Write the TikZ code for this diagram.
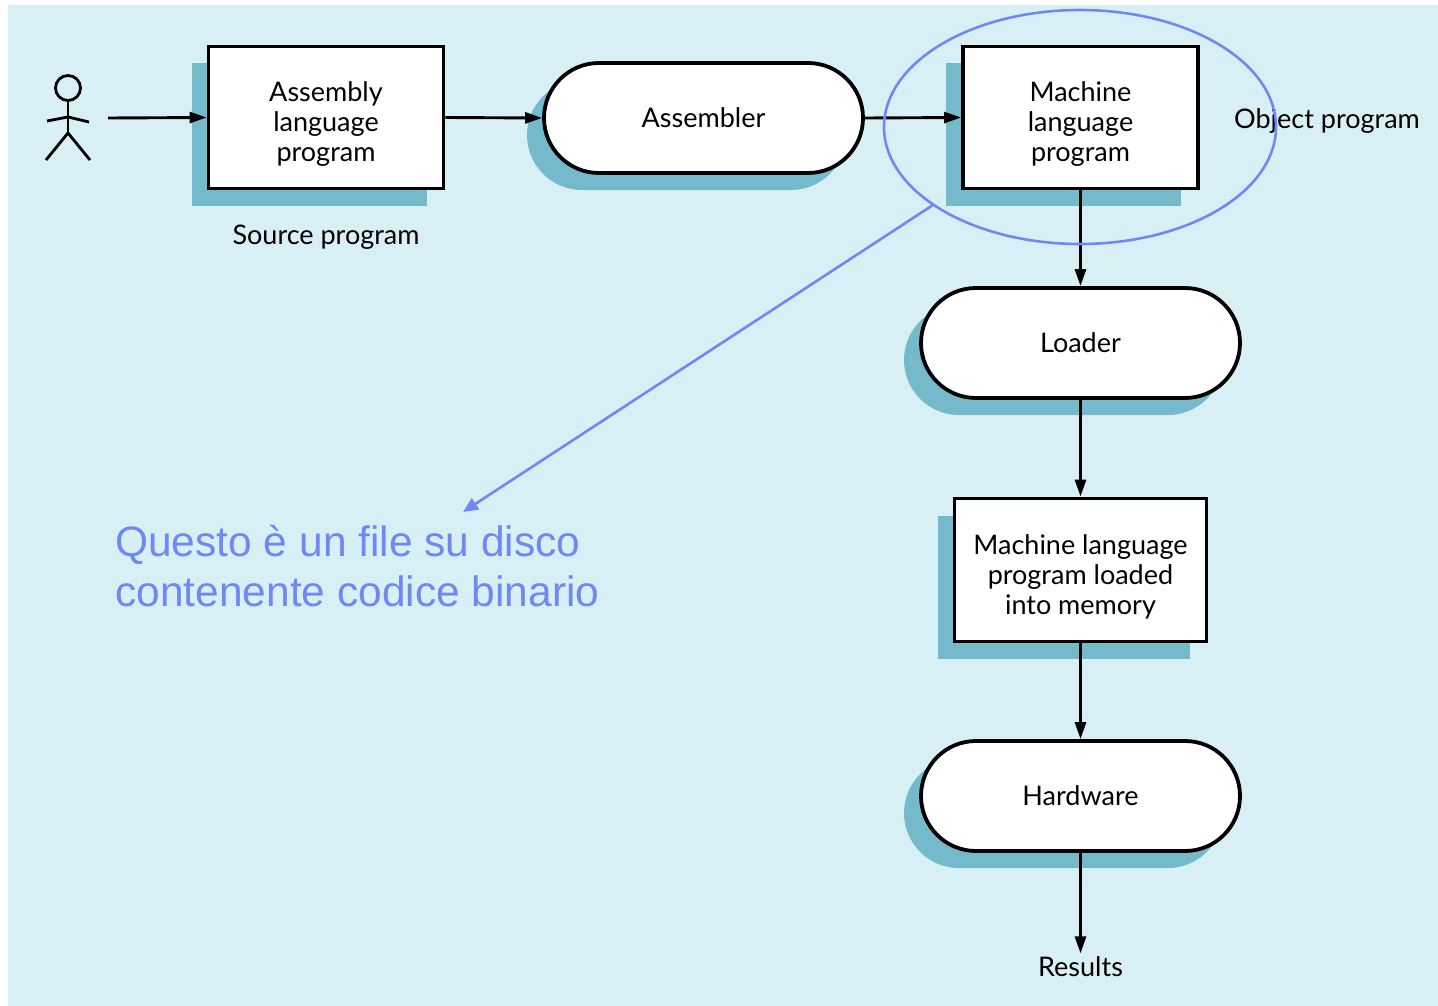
\documentclass[tikz,border=0pt]{standalone}
\usepackage{fontspec}
\setmainfont{Lato}
\newfontfamily\notefont{Liberation Sans}
\usetikzlibrary{arrows.meta,shadows}
\definecolor{bgc}{RGB}{217,239,246}
\definecolor{shc}{RGB}{116,186,203}
\definecolor{notec}{RGB}{112,136,245}
\newcommand{\boxtext}[1]{\raisebox{-8pt}[\height][\depth]{\begin{tabular}{@{}c@{}}#1\end{tabular}}}
\tikzset{
  base/.style={draw=black, line width=3.8pt, fill=white, align=center,
    font=\fontsize{27}{30}\selectfont,
    general shadow={fill=shc, shadow xshift=-17pt, shadow yshift=-17pt}},
  rectbox/.style={base, rectangle},
  stadium/.style={base, rectangle, rounded corners=55pt,
    minimum width=319pt, minimum height=110pt},
  arr/.style={line width=2.9pt, -{Triangle[length=17pt,width=11pt]}},
  lbl/.style={font=\fontsize{27}{30}\selectfont},
  note/.style={notec, line width=2.6pt},
}
\begin{document}
\begin{tikzpicture}[x=1pt,y=-1pt]
\useasboundingbox (0,0) rectangle (1438,1006);
\fill[bgc] (8,5) rectangle (1438,1006);

% stick figure
\draw[line width=2.8pt] (68,88) circle (12.5);
\draw[line width=2.8pt] (68,100.5) -- (68,133);
\draw[line width=2.8pt] (47,121) -- (68,117) -- (89,122);
\draw[line width=2.8pt] (46,160) -- (68,133) -- (90,160);
\coordinate (fig) at (108,118);

% nodes
\node[rectbox, minimum width=235pt, minimum height=142pt] (src) at (326,117.5)
  {\boxtext{Assembly\\language\\program}};
\node[stadium] (asm) at (703.5,118) {Assembler};
\node[rectbox, minimum width=235pt, minimum height=142pt] (obj) at (1080.5,117.5)
  {\boxtext{Machine\\language\\program}};
\node[stadium] (load) at (1080.5,343) {Loader};
\node[rectbox, minimum width=252pt, minimum height=143pt] (mem) at (1080.5,570)
  {\boxtext{Machine language\\program loaded\\into memory}};
\node[stadium] (hw) at (1080.5,796) {Hardware};

\node[lbl] (srclbl) at (326,237) {Source program};
\node[lbl] (objlbl) at (1327,121) {Object program};
\node[lbl] (res) at (1080.5,967) {Results};

% connectors
\draw[arr] (fig) -- (src.west);
\draw[arr] (src.east) -- (asm.west);
\draw[arr] (asm.east) -- (obj.west);
\draw[arr] (obj.south) -- (load.north);
\draw[arr] (load.south) -- (mem.north);
\draw[arr] (mem.south) -- (hw.north);
\draw[arr] (hw.south) -- (res.north);

% annotation
\draw[note] (1080,127) ellipse [x radius=196, y radius=117];
\coordinate (bstart) at (933,205);
\coordinate (btip) at (463,512);
\draw[note, -{Triangle[length=15pt,width=13pt]}] (bstart) -- (btip);
\node[notec, anchor=base west, inner sep=0pt, font=\notefont\fontsize{42.5}{50}\selectfont]
  (q1) at (115,556) {Questo è un file su disco};
\node[notec, anchor=base west, inner sep=0pt, font=\notefont\fontsize{42.5}{50}\selectfont]
  (q2) at (115,606) {contenente codice binario};
\end{tikzpicture}
\end{document}
